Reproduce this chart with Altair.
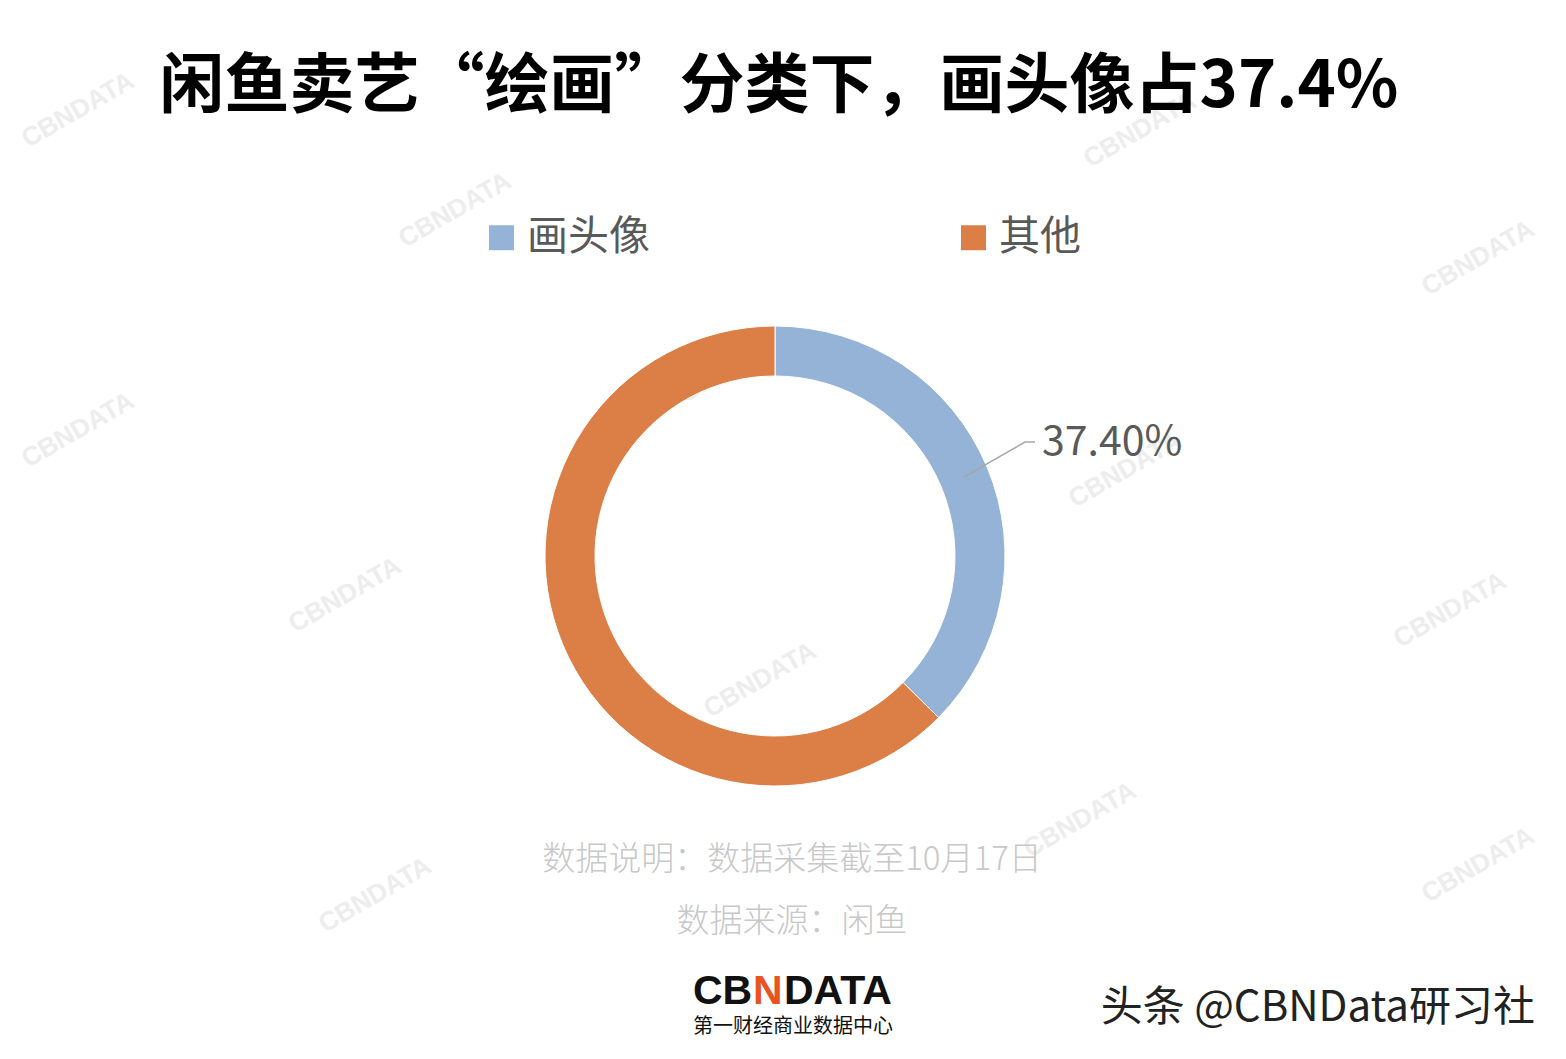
import math
import altair as alt
import pandas as pd

# ---- data ----
categories = ["画头像", "其他"]
shares = [37.4, 62.6]
colors = ["#95B3D7", "#DC7F46"]

title_text = f"闲鱼卖艺“绘画”分类下，画头像占{shares[0]}%"
note_lines = ["数据说明：数据采集截至10月17日", "数据来源：闲鱼"]

FONT = "Noto Sans CJK SC"
W, H = 1550, 1043
CX, CY = 767, 548
R_OUT, R_IN = 230, 180

df = pd.DataFrame({"category": categories, "value": shares, "order": list(range(len(categories)))})

arc = alt.Chart(df).mark_arc(outerRadius=R_OUT, innerRadius=R_IN, stroke="#ffffff", strokeWidth=1).encode(
    theta=alt.Theta("value:Q", stack=True),
    order=alt.Order("order:Q"),
    color=alt.Color(
        "category:N",
        scale=alt.Scale(domain=categories, range=colors),
        sort=categories,
        legend=alt.Legend(
            title=None,
            orient="none",
            legendX=473,
            legendY=209,
            direction="horizontal",
            symbolType="square",
            symbolSize=625,
            symbolStrokeWidth=0,
            labelFont=FONT,
            labelFontSize=41,
            labelColor="#595959",
            labelOffset=5,
            columnPadding=303,
            padding=0,
        ),
    ),
    x=alt.value(CX),
    y=alt.value(CY),
)

# leader line from the middle of the first slice
mid = (shares[0] / 2) / sum(shares) * 2 * math.pi
r_mid = (R_OUT + R_IN) / 2
sx = CX + r_mid * math.sin(mid)
sy = CY - r_mid * math.cos(mid)
line_df = pd.DataFrame({"px": [sx, 1017, 1027], "py": [sy, 434, 434], "i": [0, 1, 2]})
leader = alt.Chart(line_df).mark_line(color="#A6A6A6", strokeWidth=1.5).encode(
    x=alt.X("px:Q", scale=None, axis=None),
    y=alt.Y("py:Q", scale=None, axis=None),
    order="i:Q",
)

lab_df = pd.DataFrame({"label": [f"{shares[0]:.2f}%"]})
label = alt.Chart(lab_df).mark_text(
    font=FONT, fontSize=41, color="#595959", align="left", baseline="middle"
).encode(text="label:N", x=alt.value(1034), y=alt.value(435))

title = alt.Chart(pd.DataFrame({"t": [title_text]})).mark_text(
    font=FONT, fontSize=65, fontWeight="bold", color="#000000", align="center", baseline="middle"
).encode(text="t:N", x=alt.value(771), y=alt.value(79))

note1 = alt.Chart(pd.DataFrame({"t": [note_lines[0]]})).mark_text(
    font=FONT, fontSize=33, fontWeight=300, color="#C8C8C8", align="center", baseline="middle"
).encode(text="t:N", x=alt.value(784), y=alt.value(852))
note2 = alt.Chart(pd.DataFrame({"t": [note_lines[1]]})).mark_text(
    font=FONT, fontSize=33, fontWeight=300, color="#C8C8C8", align="center", baseline="middle"
).encode(text="t:N", x=alt.value(784), y=alt.value(914))

# logo
LOGO_FS = 41
logo_cb = alt.Chart(pd.DataFrame({"t": ["CB"]})).mark_text(
    font="Liberation Sans", fontSize=LOGO_FS, fontWeight="bold", color="#111111", align="left", baseline="middle"
).encode(text="t:N", x=alt.value(685), y=alt.value(984))
logo_n = alt.Chart(pd.DataFrame({"t": ["N"]})).mark_text(
    font="Liberation Sans", fontSize=LOGO_FS, fontWeight="bold", color="#E8531F", align="left", baseline="middle"
).encode(text="t:N", x=alt.value(745), y=alt.value(984))
logo_data = alt.Chart(pd.DataFrame({"t": ["DATA"]})).mark_text(
    font="Liberation Sans", fontSize=LOGO_FS, fontWeight="bold", color="#111111", align="left", baseline="middle"
).encode(text="t:N", x=alt.value(776), y=alt.value(984))
logo_sub = alt.Chart(pd.DataFrame({"t": ["第一财经商业数据中心"]})).mark_text(
    font=FONT, fontSize=20, color="#111111", align="left", baseline="middle"
).encode(text="t:N", x=alt.value(685), y=alt.value(1019))

toutiao = alt.Chart(pd.DataFrame({"t": ["头条 @CBNData研习社"]})).mark_text(
    font=FONT, fontSize=42, color="#222222", align="right", baseline="middle"
).encode(text="t:N", x=alt.value(1527), y=alt.value(1000))

# faint watermarks
wm_x = [70, 447, 1132, 1470, 70, 727, 1117, 337, 1442, 752, 1072, 367, 1470]
wm_y = [102, 202, 122, 250, 422, 357, 462, 587, 602, 672, 812, 887, 857]
wm = alt.Chart(pd.DataFrame({"x": wm_x, "y": wm_y, "t": ["CBNDATA"] * len(wm_x)})).mark_text(
    font="Liberation Sans", fontSize=26, fontWeight="bold", color="#EDEDED", angle=330,
    align="center", baseline="middle"
).encode(text="t:N", x=alt.X("x:Q", scale=None, axis=None), y=alt.Y("y:Q", scale=None, axis=None))

chart = alt.layer(
    wm, arc, leader, label, title, note1, note2, logo_cb, logo_n, logo_data, logo_sub, toutiao
).properties(
    width=W, height=H, autosize=alt.AutoSizeParams(type="none"), padding=0, background="#ffffff"
).configure_view(stroke=None)

chart.save("out.html", embed_options={"renderer": "svg", "actions": False})
